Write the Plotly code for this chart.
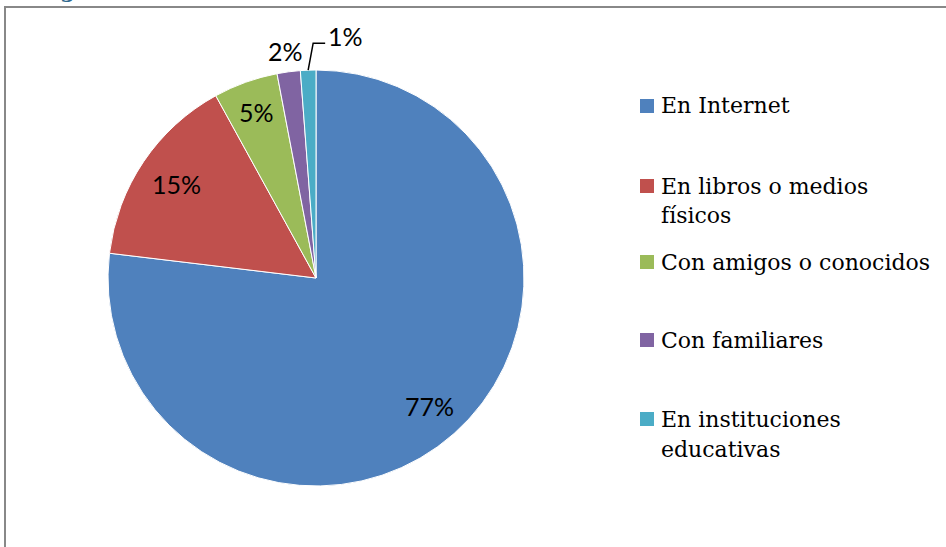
import math
import plotly.graph_objects as go

# ---- data ----
categories = ["En Internet", "En libros o medios físicos", "Con amigos o conocidos",
              "Con familiares", "En instituciones educativas"]
legend_lines = [["En Internet"], ["En libros o medios", "físicos"], ["Con amigos o conocidos"],
                ["Con familiares"], ["En instituciones", "educativas"]]
values = [76.9, 15.1, 5.0, 1.8, 1.2]
colors = ["#4F81BD", "#C0504D", "#9BBB59", "#8064A2", "#4BACC6"]

# ---- layout geometry (pixels) ----
W, H = 946, 547
CX, CY, R = 316, 278, 208
label_radius = [0.82, 0.81, 0.85, 1.10, None]
legend_first_line_y = [106, 186, 262, 340, 419]
LINE_GAP = 30


def px(x):
    return x / W


def py(y):
    return 1 - y / H


fig = go.Figure(go.Pie(
    labels=categories,
    values=values,
    sort=False,
    direction="clockwise",
    rotation=0,
    marker=dict(colors=colors, line=dict(color="white", width=1)),
    textinfo="none",
    hoverinfo="label+percent",
    domain=dict(x=[px(CX - R), px(CX + R)], y=[py(CY + R), py(CY - R)]),
    showlegend=False,
))

annotations = []
shapes = []
total = sum(values)
cum = 0.0
LABEL_FONT = dict(family="Lato, Open Sans, sans-serif", size=25, color="#000000")
for i, v in enumerate(values):
    mid = (cum + v / 2) / total * 2 * math.pi
    cum += v
    pct = f"{round(v / total * 100):d}%"
    if label_radius[i] is not None:
        r = label_radius[i] * R
        x = CX + r * math.sin(mid)
        y = CY - r * math.cos(mid)
        annotations.append(dict(x=px(x), y=py(y), xref="paper", yref="paper", text=pct,
                                showarrow=False, font=LABEL_FONT,
                                xanchor="center", yanchor="middle"))
    else:
        # leader line from slice edge
        ex = CX + R * math.sin(mid)
        ey = CY - R * math.cos(mid)
        kx, ky = ex + 5, ey - 27
        hx = kx + 12
        shapes.append(dict(type="path", xref="paper", yref="paper",
                           path=f"M {px(ex)},{py(ey)} L {px(kx)},{py(ky)} L {px(hx)},{py(ky)}",
                           line=dict(color="#000000", width=1.5)))
        annotations.append(dict(x=px(hx + 1), y=py(ky - 7), xref="paper", yref="paper", text=pct,
                                showarrow=False, font=LABEL_FONT,
                                xanchor="left", yanchor="middle"))

# manual legend
LEG_FONT = dict(family="DejaVu Serif, serif", size=22, color="#000000")
for i, lines in enumerate(legend_lines):
    y0 = legend_first_line_y[i]
    shapes.append(dict(type="rect", xref="paper", yref="paper",
                       x0=px(640), x1=px(654), y0=py(y0 - 7), y1=py(y0 + 7),
                       fillcolor=colors[i], line=dict(width=0)))
    for j, t in enumerate(lines):
        annotations.append(dict(x=px(659), y=py(y0 + j * LINE_GAP), xref="paper", yref="paper",
                                text=t, showarrow=False, font=LEG_FONT,
                                xanchor="left", yanchor="middle"))

# frame border
shapes.append(dict(type="rect", xref="paper", yref="paper",
                   x0=px(5), x1=px(W + 20), y0=py(H + 20), y1=py(7),
                   line=dict(color="#888888", width=2), fillcolor="rgba(0,0,0,0)"))

# cut-off heading text at top
annotations.append(dict(x=px(67), y=py(4), xref="paper", yref="paper", text="<b>g</b>",
                        showarrow=False, xanchor="center", yanchor="bottom",
                        font=dict(family="DejaVu Serif, serif", size=22, color="#2F6A8F")))

fig.update_layout(
    width=W, height=H,
    margin=dict(l=0, r=0, t=0, b=0),
    paper_bgcolor="white", plot_bgcolor="white",
    annotations=annotations, shapes=shapes,
)

fig.write_html("out.html", config={"displayModeBar": False},
               post_script="document.body.style.margin='0';document.body.style.overflow='hidden';")
